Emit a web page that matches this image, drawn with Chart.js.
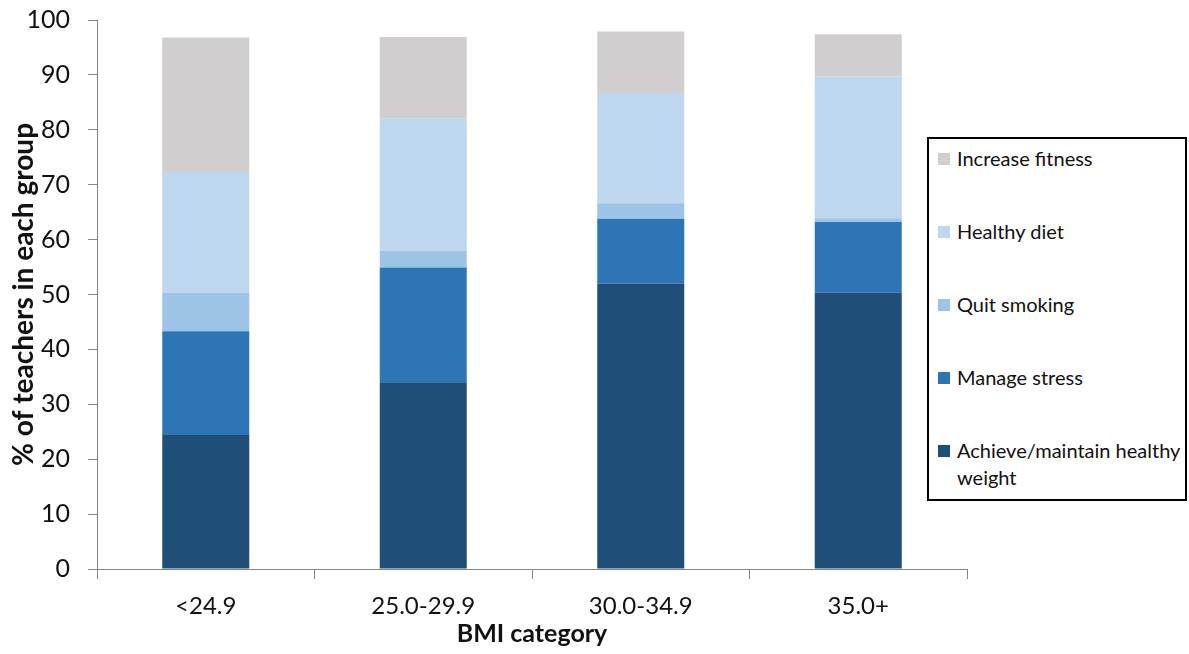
<!DOCTYPE html>
<html>
<head>
<meta charset="utf-8">
<script src="https://cdn.jsdelivr.net/npm/chart.js@4.4.1/dist/chart.umd.min.js"></script>
<style>
  html, body { margin: 0; padding: 0; background: #fff; }
  #wrap { position: relative; width: 1189px; height: 654px; }
  #legend {
    position: absolute; left: 927px; top: 137px; width: 260px; height: 364px;
    border: 2px solid #000; box-sizing: border-box; background: #fff;
    font-family: Lato, "Open Sans", sans-serif; font-size: 20px; color: #111;
  }
  .item { position: absolute; left: 9px; display: flex; align-items: flex-start; line-height: 27px; white-space: nowrap; }
  .sw { width: 12px; height: 12px; margin: 8px 7px 0 0; flex: none; }
</style>
</head>
<body>
<div id="wrap">
  <canvas id="grafico" width="1189" height="654"></canvas>
  <div id="legend"></div>
</div>
<script>
const categorias = ['<24.9', '25.0-29.9', '30.0-34.9', '35.0+'];

const pesoSaudavel = [24.4, 33.9, 52.0, 50.3];
const gerirStress = [18.9, 21.0, 11.8, 12.9];
const deixarFumar = [7.0, 3.1, 2.8, 0.7];
const dietaSaudavel = [22.0, 24.0, 20.1, 25.8];
const aumentarForma = [24.5, 14.9, 11.2, 7.7];

const yTicks = [0, 10, 20, 30, 40, 50, 60, 70, 80, 90, 100];

const series = [
  { label: 'Achieve/maintain healthy weight', data: pesoSaudavel, cor: '#1F4E79' },
  { label: 'Manage stress', data: gerirStress, cor: '#2E75B6' },
  { label: 'Quit smoking', data: deixarFumar, cor: '#9DC3E6' },
  { label: 'Healthy diet', data: dietaSaudavel, cor: '#BDD7EE' },
  { label: 'Increase fitness', data: aumentarForma, cor: '#D0CECE' }
];

const fonte = 'Lato, "Open Sans", sans-serif';

const datasets = series.map(s => ({
  label: s.label,
  data: s.data,
  backgroundColor: s.cor,
  borderWidth: 0,
  categoryPercentage: 0.4,
  barPercentage: 1
}));

new Chart(document.getElementById('grafico').getContext('2d'), {
  type: 'bar',
  data: { labels: categorias, datasets: datasets },
  options: {
    responsive: false,
    animation: false,
    layout: { padding: { left: 0, right: 222, top: 20, bottom: 0 } },
    plugins: {
      legend: { display: false },
      tooltip: { enabled: false }
    },
    scales: {
      x: {
        stacked: true,
        afterFit: scale => { scale.height = 85; },
        border: { color: '#868686', width: 1 },
        grid: { drawOnChartArea: false, tickLength: 10, color: '#868686', offset: true },
        ticks: { color: '#111', font: { family: fonte, size: 24 }, padding: 13 },
        title: {
          display: true, text: 'BMI category', color: '#111',
          font: { family: fonte, size: 25, weight: 'bold' }, padding: { top: 0, bottom: 5 }
        }
      },
      y: {
        stacked: true,
        min: 0, max: 100,
        afterFit: scale => {
          scale.width = 97;
          scale.paddingTop = 0;
          scale.paddingBottom = 0;
        },
        afterBuildTicks: scale => { scale.ticks = yTicks.map(v => ({ value: v })); },
        border: { color: '#868686', width: 1 },
        grid: { drawOnChartArea: false, tickLength: 9, color: '#868686' },
        ticks: { color: '#111', font: { family: fonte, size: 25 }, padding: 18 },
        title: {
          display: true, text: '% of teachers in each group', color: '#111',
          font: { family: fonte, size: 28, weight: 'bold' }, padding: { top: 7, bottom: 0 }
        }
      }
    }
  }
});

// legenda em HTML, ordem invertida como no original
const legenda = document.getElementById('legend');
const posicoes = [6, 79, 152, 225, 298];
series.slice().reverse().forEach((s, i) => {
  const el = document.createElement('div');
  el.className = 'item';
  el.style.top = posicoes[i] + 'px';
  el.innerHTML = `<span class="sw" style="background:${s.cor}"></span><span>${s.label.replace('healthy weight', 'healthy<br>weight')}</span>`;
  legenda.appendChild(el);
});
</script>
</body>
</html>
